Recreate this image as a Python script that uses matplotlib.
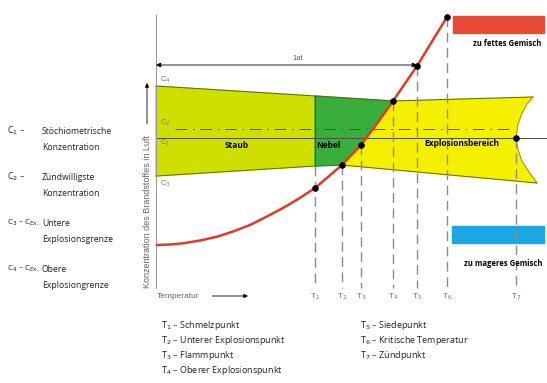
import matplotlib.pyplot as plt
import numpy as np

plt.rcParams['font.family'] = ['Open Sans', 'DejaVu Sans']

# temperature marks (pixel x of each T) and where the dashed drop line starts
t_labels = ['1', '2', '3', '4', '5', '6', '7']
t_x = [315, 342, 361, 393, 417, 447, 516]
t_top = [166, 165, 145, 101, 66, 17, 138]

# vapour pressure / temperature curve (red)
curve_x = [157, 170, 183, 200, 217, 233, 250, 266, 283, 299, 315, 328, 342, 351,
           361, 377, 393, 405, 417, 432, 447]
curve_y = [245, 244.5, 243.3, 240.5, 236.7, 231.5, 225, 217, 208, 198.5, 188, 177,
           165, 155.5, 145, 123.5, 101, 83.5, 66, 41.5, 17]

# boundaries of the concentration band
upper_x = [156, 315, 393, 533]
upper_y = [86, 96, 101, 97]
lower_x = [156, 315, 342, 537]
lower_y = [176, 166, 165, 183]
edge_x = [533, 527, 522, 518, 516, 518, 522, 529, 537]
edge_y = [97, 104, 113, 124, 138, 150, 161, 172, 183]

c1_y = 138
c2_y = 129

legend_c = [('C$_1$ –', 'Stöchiometrische', 'Konzentration'),
            ('C$_2$ –', 'Zündwilligste', 'Konzentration'),
            ('C$_3$ – C$_{Ex,}$', 'Untere', 'Explosionsgrenze'),
            ('C$_4$ – C$_{Ex,}$', 'Obere', 'Explosiongrenze')]
legend_t_left = ['Schmelzpunkt', 'Unterer Explosionspunkt', 'Flammpunkt', 'Oberer Explosionspunkt']
legend_t_right = ['Siedepunkt', 'Kritische Temperatur', 'Zündpunkt']

fig = plt.figure(figsize=(5.47, 3.83), dpi=100)
ax = fig.add_axes([0, 0, 1, 1])
ax.set_xlim(0, 547)
ax.set_ylim(383, 0)
ax.axis('off')

# Staub region
ax.fill([upper_x[0], upper_x[1], lower_x[1], lower_x[0]],
        [upper_y[0], upper_y[1], lower_y[1], lower_y[0]],
        color='#cfe000', zorder=1)
# Nebel region: top line, down the curve from T4 to T2, back along bottom
i2, i4 = curve_x.index(342), curve_x.index(393)
nx = [upper_x[1], upper_x[2]] + curve_x[i2:i4 + 1][::-1] + [lower_x[1]]
ny = [upper_y[1], upper_y[2]] + curve_y[i2:i4 + 1][::-1] + [lower_y[1]]
ax.fill(nx, ny, color='#3aae3c', zorder=1)
# Explosionsbereich
ex = curve_x[i2:i4 + 1] + [upper_x[3]] + edge_x[1:]
ey = curve_y[i2:i4 + 1] + [upper_y[3]] + edge_y[1:]
ax.fill(ex, ey, color='#f5ef00', zorder=1)

ax.plot(upper_x, upper_y, color='#5a6a10', lw=0.7, zorder=2)
ax.plot(lower_x, lower_y, color='#5a6a10', lw=0.7, zorder=2)
ax.plot(edge_x, edge_y, color='#8a8a20', lw=0.6, zorder=2)
ax.plot([315, 315], [upper_y[1], lower_y[1]], color='#2e6a1e', lw=0.8, zorder=2)

# C1 and C2 lines
ax.plot([156, 547], [c1_y, c1_y], color='#4a5040', lw=0.7, zorder=3)
ax.plot([175, 510], [c2_y, c2_y], color='#4a5040', lw=0.7, zorder=3,
        dashes=(12, 6, 1.5, 6))

# dashed temperature lines
for x, top in zip(t_x, t_top):
    ax.plot([x, x], [top, 288], color='#8a8a8a', lw=1.0, dashes=(7, 4), zorder=3)

# y axis
ax.plot([156, 156], [15, 288], color='#9a9a9a', lw=0.8, zorder=3)

# red curve and points
ax.plot(curve_x, curve_y, color='#df3a2a', lw=1.8, zorder=4, solid_joinstyle='round')
ax.scatter([curve_x[curve_x.index(x)] for x in t_x[:6]],
           [curve_y[curve_x.index(x)] for x in t_x[:6]], s=14, color='black', zorder=5)
ax.scatter([t_x[6]], [c1_y], s=14, color='black', zorder=5)

# 1at arrow
ax.annotate('', xy=(156, 65), xytext=(417, 65),
            arrowprops=dict(arrowstyle='<|-|>', color='black', lw=0.6,
                            mutation_scale=7, shrinkA=0, shrinkB=0))
ax.text(298, 59, '1at', fontsize=5.5, color='#555555', family='Liberation Sans', ha='center', va='center')

# C labels on the chart
for lab, y in [('4', 80), ('2', 123), ('1', 143), ('3', 184)]:
    ax.text(160, y, 'C$_{%s}$' % lab, fontsize=5.5, color='#777777', family='Liberation Sans',
            ha='left', va='center')

# region names
ax.text(237, 145, 'Staub', fontsize=6, weight='bold', color='black', ha='center', va='center')
ax.text(328, 145, 'Nebel', fontsize=6, weight='bold', color='black', ha='center', va='center')
ax.text(462, 143, 'Explosionsbereich', fontsize=6, weight='bold', color='black', ha='center', va='center')

# mixture boxes
ax.fill([453, 544, 544, 453], [16, 16, 33, 33], color='#e84a38', zorder=1)
ax.text(507, 44, 'zu fettes Gemisch', fontsize=5.5, weight='bold', ha='center', va='center')
ax.fill([452, 544, 544, 452], [226, 226, 243, 243], color='#1ba8e2', zorder=1)
ax.text(503, 263, 'zu mageres Gemisch', fontsize=5.5, weight='bold', ha='center', va='center')

# y axis label with arrow
ax.text(147, 211, 'Konzentration des Brandstoffes in Luft', rotation=90, fontsize=6.5,
        color='#666666', family='Liberation Sans', ha='center', va='center')
ax.annotate('', xy=(147, 83), xytext=(147, 124),
            arrowprops=dict(arrowstyle='-|>', color='black', lw=0.6, mutation_scale=6,
                            shrinkA=0, shrinkB=0))

# x axis label with arrow
ax.text(157, 296, 'Temperatur', fontsize=6, color='#666666', family='Liberation Sans',
        ha='left', va='center')
ax.annotate('', xy=(248, 296), xytext=(212, 296),
            arrowprops=dict(arrowstyle='-|>', color='black', lw=0.6, mutation_scale=6,
                            shrinkA=0, shrinkB=0))
for lab, x in zip(t_labels, t_x):
    ax.text(x, 297, 'T$_{%s}$' % lab, fontsize=6, color='#777777', family='Liberation Sans',
            ha='center', va='center')

# left legend
for i, (sym, l1, l2) in enumerate(legend_c):
    y = 131 + i * 46
    ax.text(7, y, sym, fontsize=6.4 if i < 2 else 5.8, color='#222222', ha='left', va='center')
    ax.text(42, y, l1, fontsize=6.2, color='#222222', ha='left', va='center')
    ax.text(42, y + 16, l2, fontsize=6.2, color='#222222', ha='left', va='center')

# bottom legend
for i, name in enumerate(legend_t_left):
    ax.text(161, 326 + i * 14.7, 'T$_{%d}$ – %s' % (i + 1, name), fontsize=6.5,
            color='#222222', ha='left', va='center')
for i, name in enumerate(legend_t_right):
    ax.text(360, 326 + i * 14.7, 'T$_{%d}$ – %s' % (i + 5, name), fontsize=6.5,
            color='#222222', ha='left', va='center')

fig.savefig('out.png', dpi=100)
